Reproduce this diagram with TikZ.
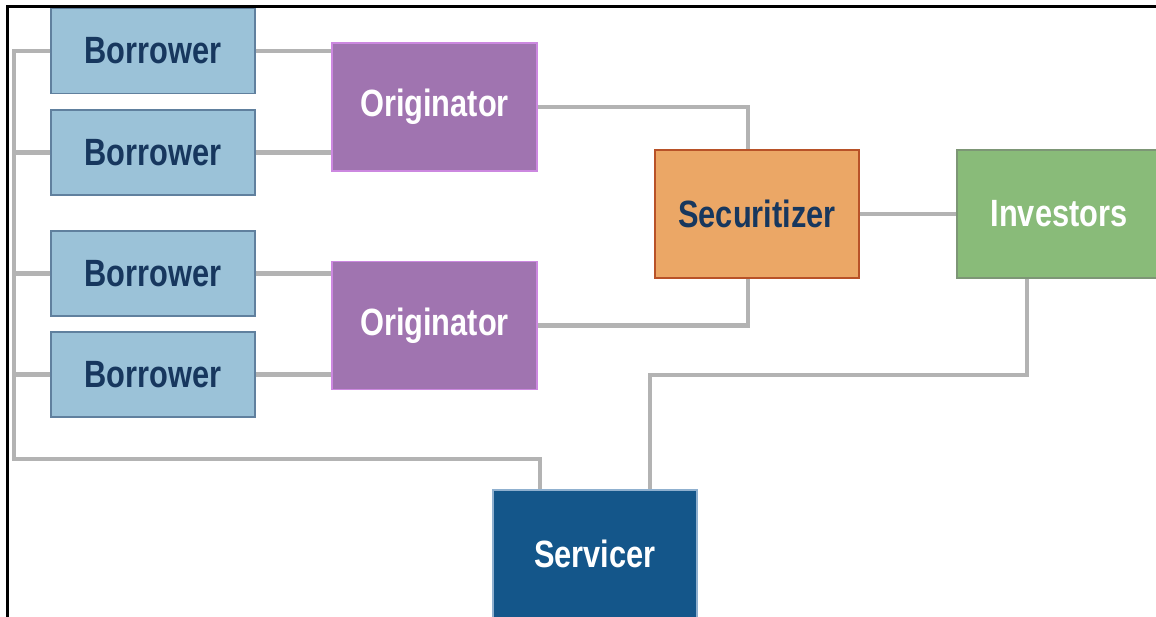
\documentclass[tikz,border=0pt]{standalone}
\usepackage{fontspec}
\setmainfont{Liberation Sans}[FakeStretch=0.81]
\usepackage{tikz}
\usetikzlibrary{calc}

\definecolor{borrowfill}{RGB}{155,194,216}
\definecolor{borrowline}{RGB}{96,128,158}
\definecolor{origfill}{RGB}{160,116,176}
\definecolor{origline}{RGB}{204,136,224}
\definecolor{secfill}{RGB}{235,167,102}
\definecolor{secline}{RGB}{184,82,40}
\definecolor{invfill}{RGB}{137,187,121}
\definecolor{invline}{RGB}{125,150,118}
\definecolor{servfill}{RGB}{20,86,138}
\definecolor{servline}{RGB}{143,176,207}
\definecolor{navytext}{RGB}{23,55,94}
\definecolor{linkgray}{RGB}{179,179,179}

\begin{document}
\begin{tikzpicture}[x=1pt, y=-1pt,
            every node/.style = {shape=rectangle, inner sep=0pt,
                                 line width=1.5pt, align=center,
                                 font=\fontsize{38}{42}\selectfont\bfseries},
            borrower/.style = {fill=borrowfill, draw=borrowline, text=navytext,
                               minimum width=204pt, minimum height=85pt},
            originator/.style = {fill=origfill, draw=origline, text=white,
                                 minimum width=205pt, minimum height=128pt},
            bigbox/.style = {minimum width=204pt, minimum height=128pt},
            link/.style = {draw=linkgray, line width=4.5pt}]
    \clip (0,0) rectangle (1156,617);
    \fill[white] (0,0) rectangle (1156,617);

    \node[borrower] (b1) at (153,51) {Borrower};
    \node[borrower] (b2) at (153,152.5) {Borrower};
    \node[borrower] (b3) at (153,273.5) {Borrower};
    \node[borrower] (b4) at (153,374.5) {Borrower};
    \node[originator] (o1) at (434.5,107) {Originator};
    \node[originator] (o2) at (434.5,325.5) {Originator};
    \node[bigbox, fill=secfill, draw=secline, text=navytext] (sec) at (757,214) {Securitizer};
    \node[bigbox, fill=invfill, draw=invline, text=white] (inv) at (1059,214) {Investors};
    \node[bigbox, fill=servfill, draw=servline, text=white] (sv) at (595,554) {Servicer};

    \coordinate (spinetop) at (14,51);
    \coordinate (spinebot) at (14,459);

    \draw[link] (b1.west) -- (spinetop) -- (spinebot) -| ([xshift=-55pt]sv.north);
    \draw[link] (b2.west) -- (b2.west -| spinetop);
    \draw[link] (b3.west) -- (b3.west -| spinetop);
    \draw[link] (b4.west) -- (b4.west -| spinetop);
    \draw[link] (b1.east) -- (b1.east -| o1.west);
    \draw[link] (b2.east) -- (b2.east -| o1.west);
    \draw[link] (b3.east) -- (b3.east -| o2.west);
    \draw[link] (b4.east) -- (b4.east -| o2.west);
    \draw[link] (o1.east) -| ([xshift=-9pt]sec.north);
    \draw[link] (o2.east) -| ([xshift=-9pt]sec.south);
    \draw[link] (sec.east) -- (inv.west);
    \draw[link] ([xshift=-32pt]inv.south) -- ++(0,96) -| ([xshift=55pt]sv.north);

    \draw[line width=3pt] (7,617) -- (7,7) -- (1156,7);
\end{tikzpicture}
\end{document}
